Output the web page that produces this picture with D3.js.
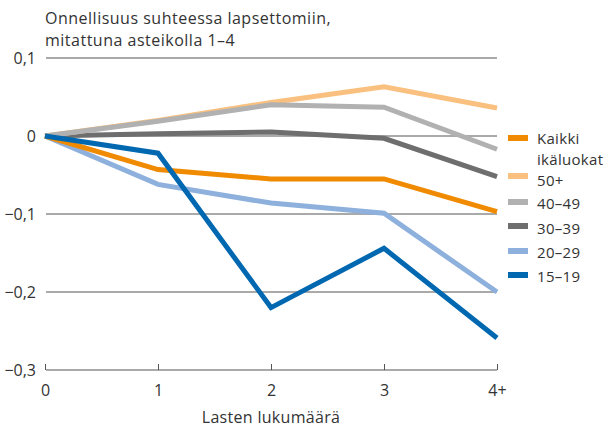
<!DOCTYPE html>
<html>
<head>
<meta charset="utf-8">
<script src="https://cdn.jsdelivr.net/npm/d3@7"></script>
<style>
  body { margin: 0; background: #fff; }
  svg text { font-family: "Open Sans", "Noto Sans", sans-serif; fill: #333; }
</style>
</head>
<body>
<div id="container"></div>
<script>
// data
const categories = ['0', '1', '2', '3', '4+']
const yTicks = [0.1, 0, -0.1, -0.2, -0.3]

const seriesNames = ['Kaikki ikäluokat', '50+', '40–49', '30–39', '20–29', '15–19']
const seriesColors = ['#f08a00', '#f9c07f', '#b1b1b1', '#6e6e6e', '#8db0dc', '#0068b0']

const kaikki = [0, -0.043, -0.055, -0.055, -0.097]
const age50 = [0, 0.02, 0.043, 0.063, 0.036]
const age40 = [0, 0.019, 0.04, 0.037, -0.017]
const age30 = [0, 0.003, 0.005, -0.003, -0.052]
const age20 = [0, -0.062, -0.086, -0.099, -0.2]
const age15 = [0, -0.022, -0.22, -0.144, -0.259]

const seriesValues = [kaikki, age50, age40, age30, age20, age15]
// draw order: bottom first
const drawOrder = [4, 3, 1, 2, 0, 5]

// setup
const width = 609
const height = 428
const margin = {top: 58, right: 112, bottom: 58, left: 45}
const fontSize = 16

const svg = d3.select('#container').append('svg')
  .attr('width', width)
  .attr('height', height)

const x = d3.scalePoint()
  .domain(categories)
  .range([margin.left, width - margin.right])

const y = d3.scaleLinear()
  .domain([-0.3, 0.1])
  .range([height - margin.bottom, margin.top])

const fmt = v => v === 0 ? '0' : d3.format('.1f')(v).replace('.', ',').replace('-', '\u2212')

// gridlines
svg.append('g')
  .selectAll('line')
  .data(yTicks)
  .join('line')
    .attr('x1', x('0') + 1)
    .attr('x2', x('4+'))
    .attr('y1', d => y(d))
    .attr('y2', d => y(d))
    .attr('stroke', '#555')
    .attr('stroke-width', 1)

// y labels
svg.append('g')
  .selectAll('text')
  .data(yTicks)
  .join('text')
    .attr('x', 36)
    .attr('y', d => y(d) + 6)
    .attr('text-anchor', 'end')
    .attr('font-size', fontSize)
    .text(d => fmt(d))

// x axis ticks
const xAxis = svg.append('g')
  .attr('transform', `translate(0,${y(-0.3)})`)
  .call(d3.axisBottom(x).tickSize(-6).tickPadding(20))
xAxis.select('.domain').remove()
xAxis.selectAll('line').attr('stroke', '#555')
xAxis.selectAll('text')
  .attr('font-size', fontSize)
  .attr('font-family', '"Open Sans", "Noto Sans", sans-serif')
  .attr('fill', '#333')
  .attr('dy', '0.35em')

// lines
const line = d3.line()
  .x((d, i) => x(categories[i]))
  .y(d => y(d))

svg.append('g')
  .selectAll('path')
  .data(drawOrder)
  .join('path')
    .attr('d', i => line(seriesValues[i]))
    .attr('fill', 'none')
    .attr('stroke', i => seriesColors[i])
    .attr('stroke-width', 5)
    .attr('stroke-linejoin', 'miter')

// title
svg.append('text')
  .attr('x', margin.left)
  .attr('y', 24)
  .attr('font-size', fontSize)
  .attr('letter-spacing', 0.5)
  .text('Onnellisuus suhteessa lapsettomiin,')
svg.append('text')
  .attr('x', margin.left)
  .attr('y', 46)
  .attr('font-size', fontSize)
  .attr('letter-spacing', 0.5)
  .text('mitattuna asteikolla 1–4')

// x title
svg.append('text')
  .attr('x', x('2'))
  .attr('y', 423)
  .attr('text-anchor', 'middle')
  .attr('font-size', fontSize)
  .attr('letter-spacing', 0.3)
  .text('Lasten lukumäärä')

// legend
const swatchY = [138, 176, 202, 226, 251, 275]
const labelY = [144, 186, 209, 234, 258, 282]

const legend = svg.append('g')

legend.selectAll('rect')
  .data(seriesNames)
  .join('rect')
    .attr('x', 508)
    .attr('y', (d, i) => swatchY[i] - 3)
    .attr('width', 20)
    .attr('height', 6)
    .attr('fill', (d, i) => seriesColors[i])

legend.selectAll('text')
  .data(seriesNames.flatMap((d, i) => d.split(' ').map((p, j) => ({p, y: labelY[i] + j * 21}))))
  .join('text')
    .attr('x', 537)
    .attr('y', d => d.y)
    .attr('font-size', 15)
    .attr('letter-spacing', 0.3)
    .text(d => d.p)
</script>
</body>
</html>
